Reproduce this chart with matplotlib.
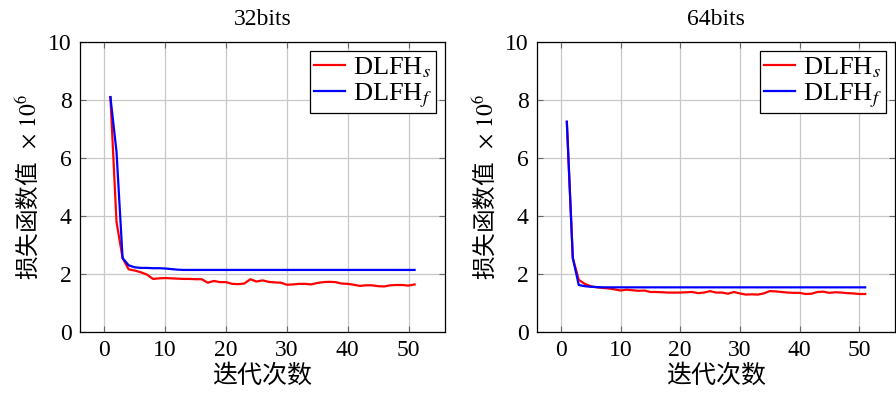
import matplotlib
matplotlib.use("Agg")
import matplotlib.pyplot as plt

plt.rcParams['font.family'] = ['Liberation Serif', 'Noto Sans CJK SC']
plt.rcParams['mathtext.fontset'] = 'stix'

iterations = list(range(1, 52))

red_32 = [8.10, 3.80, 2.55, 2.16, 2.12, 2.06, 1.98, 1.83, 1.85, 1.86,
          1.85, 1.84, 1.83, 1.83, 1.82, 1.82, 1.70, 1.76, 1.72, 1.72,
          1.66, 1.65, 1.67, 1.82, 1.74, 1.78, 1.73, 1.71, 1.70, 1.63,
          1.64, 1.66, 1.66, 1.64, 1.69, 1.72, 1.73, 1.72, 1.67, 1.66,
          1.63, 1.59, 1.61, 1.61, 1.58, 1.57, 1.61, 1.62, 1.62, 1.60,
          1.64]
blue_32 = [8.10, 6.22, 2.55, 2.30, 2.23, 2.21, 2.21, 2.20, 2.20, 2.19,
           2.17, 2.15, 2.14, 2.14, 2.14, 2.14, 2.14, 2.14, 2.14, 2.14,
           2.14, 2.14, 2.14, 2.14, 2.14, 2.14, 2.14, 2.14, 2.14, 2.14,
           2.14, 2.14, 2.14, 2.14, 2.14, 2.14, 2.14, 2.14, 2.14, 2.14,
           2.14, 2.14, 2.14, 2.14, 2.14, 2.14, 2.14, 2.14, 2.14, 2.14,
           2.14]
red_64 = [7.25, 2.55, 1.80, 1.66, 1.58, 1.54, 1.52, 1.50, 1.47, 1.43,
          1.46, 1.44, 1.42, 1.43, 1.38, 1.38, 1.37, 1.36, 1.36, 1.36,
          1.37, 1.38, 1.34, 1.36, 1.41, 1.36, 1.36, 1.32, 1.38, 1.33,
          1.29, 1.30, 1.29, 1.33, 1.41, 1.40, 1.38, 1.36, 1.35, 1.35,
          1.31, 1.32, 1.38, 1.39, 1.35, 1.37, 1.36, 1.34, 1.33, 1.31,
          1.31]
blue_64 = [7.25, 2.55, 1.62, 1.58, 1.56, 1.55, 1.54, 1.54, 1.54, 1.54,
           1.54, 1.54, 1.54, 1.54, 1.54, 1.54, 1.54, 1.54, 1.54, 1.54,
           1.54, 1.54, 1.54, 1.54, 1.54, 1.54, 1.54, 1.54, 1.54, 1.54,
           1.54, 1.54, 1.54, 1.54, 1.54, 1.54, 1.54, 1.54, 1.54, 1.54,
           1.54, 1.54, 1.54, 1.54, 1.54, 1.54, 1.54, 1.54, 1.54, 1.54,
           1.54]

titles = ["32bits", "64bits"]
series_labels = [r"DLFH$_s$", r"DLFH$_f$"]
xticks = [0, 10, 20, 30, 40, 50]
yticks = [0, 2, 4, 6, 8, 10]
xlabel = "迭代次数"
ylabel = "损失函数值 $\\;\\times\\,10^6$"

fig = plt.figure(figsize=(8.96, 3.96), dpi=100)
positions = [[80/896, 64/396, 365/896, 290/396],
             [537/896, 64/396, 358/896, 290/396]]
data = [(red_32, blue_32), (red_64, blue_64)]
cjk = ['Noto Sans CJK SC', 'Liberation Serif']

for pos, title, (r, b) in zip(positions, titles, data):
    ax = fig.add_axes(pos)
    ax.plot(iterations, r, color=(1, 0, 0), lw=1.6, label=series_labels[0])
    ax.plot(iterations, b, color=(0, 0, 1), lw=1.6, label=series_labels[1])
    ax.set_xlim(-4, 56)
    ax.set_ylim(0, 10)
    ax.set_xticks(xticks)
    ax.set_yticks(yticks)
    ax.grid(True, color='#c8c8c8', lw=0.9)
    ax.set_axisbelow(True)
    ax.tick_params(direction='in', length=4, width=0.8, colors='#666666',
                   labelcolor='black', labelsize=17, top=True, right=True, pad=6)
    for s in ax.spines.values():
        s.set_linewidth(0.9)
        s.set_color('black')
    ax.set_title(title, fontsize=17, pad=12)
    ax.set_xlabel(xlabel, fontsize=18, family=cjk, labelpad=1)
    ax.set_ylabel(ylabel, fontsize=17, family=cjk, labelpad=5)
    leg = ax.legend(loc='upper right', fontsize=19, frameon=True, fancybox=False,
                    handlelength=1.15, handletextpad=0.3, borderpad=0.15,
                    labelspacing=0.05, borderaxespad=0.35, framealpha=1)
    leg.get_frame().set_edgecolor('black')
    leg.get_frame().set_linewidth(0.9)

fig.savefig("out.png", dpi=100)
